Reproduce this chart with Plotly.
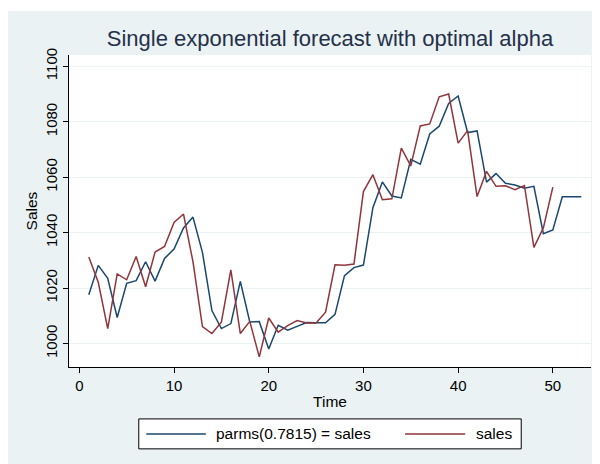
import plotly.graph_objects as go

# ---- data ----
sales_time = list(range(1, 51))
sales = [1031.2, 1022.1, 1005.4, 1025.1, 1023.0, 1031.4, 1020.5, 1033.0, 1035.0, 1043.7,
         1046.7, 1029.5, 1006.1, 1003.6, 1007.7, 1026.6, 1003.6, 1008.0, 995.2, 1009.2,
         1004.1, 1006.5, 1008.3, 1007.4, 1007.4, 1011.3, 1028.4, 1028.2, 1028.7, 1054.8,
         1060.9, 1051.9, 1052.2, 1070.5, 1064.1, 1078.5, 1079.2, 1089.0, 1090.0, 1072.3,
         1076.8, 1053.0, 1062.1, 1056.7, 1056.9, 1055.5, 1057.0, 1034.7, 1041.7, 1056.4]

fc_time = list(range(1, 54))
forecast = [1017.6, 1028.2, 1023.5, 1009.4, 1021.7, 1022.7, 1029.5, 1022.5, 1030.7, 1034.1,
            1041.7, 1045.6, 1032.9, 1011.9, 1005.4, 1007.2, 1022.4, 1007.8, 1007.9, 998.0,
            1006.6, 1004.8, 1006.2, 1007.6, 1007.5, 1007.5, 1010.5, 1024.5, 1027.4, 1028.3,
            1049.0, 1058.3, 1053.2, 1052.5, 1066.4, 1064.7, 1075.6, 1078.4, 1086.6, 1089.3,
            1076.1, 1076.7, 1058.2, 1061.3, 1057.8, 1057.2, 1056.0, 1056.7, 1039.6, 1041.0,
            1052.9, 1052.9, 1052.9]

x_ticks = [0, 10, 20, 30, 40, 50]
y_ticks = [1000, 1020, 1040, 1060, 1080, 1100]

title_text = "Single exponential forecast with optimal alpha"
fc_name = "parms(0.7815) = sales"
sales_name = "sales"

NAVY = "#1A476F"
MAROON = "#90353B"
BG = "#EAF2F3"
FONT = "Liberation Sans, Arial, sans-serif"

# The page places the figure 8px from the top-left corner (browser body margin),
# so the figure is sized and positioned in page pixels minus that offset.
OFF = 8
W, H = 600 - OFF, 464 - OFF
# plot area in page pixels
PL, PR, PT, PB = 69.3, 590.7, 55, 367.5
ML, MR, MT, MB = PL - OFF, W - (PR - OFF), PT - OFF, H - (PB - OFF)
PW, PH = PR - PL, PB - PT


def px(x):
    """page pixel x -> paper fraction"""
    return (x - PL) / PW


def py(y):
    """page pixel y -> paper fraction"""
    return (PB - y) / PH


fig = go.Figure()
fig.add_trace(go.Scatter(x=fc_time, y=forecast, mode="lines", name=fc_name,
                         line=dict(color=NAVY, width=1.5), showlegend=False))
fig.add_trace(go.Scatter(x=sales_time, y=sales, mode="lines", name=sales_name,
                         line=dict(color=MAROON, width=1.5), showlegend=False))

shapes = [
    dict(type="rect", xref="paper", yref="paper", x0=px(6), x1=px(610), y0=py(11), y1=py(480),
         fillcolor=BG, line=dict(width=0), layer="below"),
    dict(type="rect", xref="paper", yref="paper", x0=0, x1=1, y0=0, y1=1,
         fillcolor="white", line=dict(width=0), layer="below"),
    # legend box
    dict(type="rect", xref="paper", yref="paper", x0=px(139), x1=px(521), y0=py(419.5), y1=py(449.5),
         fillcolor="white", line=dict(color="black", width=1)),
    dict(type="line", xref="paper", yref="paper", x0=px(146.5), x1=px(206), y0=py(434.5), y1=py(434.5),
         line=dict(color=NAVY, width=1.5)),
    dict(type="line", xref="paper", yref="paper", x0=px(405), x1=px(465), y0=py(434.5), y1=py(434.5),
         line=dict(color=MAROON, width=1.5)),
]

annotations = [
    dict(text=fc_name, xref="paper", yref="paper", x=px(214), y=py(434.5), xanchor="left",
         yanchor="middle", showarrow=False, font=dict(family=FONT, size=15.5, color="black")),
    dict(text=sales_name, xref="paper", yref="paper", x=px(474), y=py(434.5), xanchor="left",
         yanchor="middle", showarrow=False, font=dict(family=FONT, size=15.5, color="black")),
]

fig.update_layout(
    width=W, height=H, autosize=False,
    margin=dict(l=ML, r=MR, t=MT, b=MB, pad=0, autoexpand=False),
    paper_bgcolor="white", plot_bgcolor="white",
    font=dict(family=FONT, size=15, color="black"),
    title=dict(text=title_text, xref="container", yref="container",
               x=(330 - OFF) / W, xanchor="center", y=1 - (38 - OFF) / H, yanchor="middle",
               font=dict(family=FONT, size=22, color="#25304A")),
    shapes=shapes, annotations=annotations,
    xaxis=dict(range=[-1.09, 54.03], tickvals=x_ticks, ticks="outside", ticklen=5,
               tickcolor="black", showline=True, linecolor="black", linewidth=1,
               showgrid=False, zeroline=False, tickfont=dict(size=15), automargin=False,
               title=dict(text="Time", standoff=3, font=dict(size=15.5))),
    yaxis=dict(range=[991.54, 1104.07], tickvals=y_ticks, ticks="outside", ticklen=5,
               tickcolor="black", showline=True, linecolor="black", linewidth=1,
               showgrid=True, gridcolor=BG, gridwidth=1, zeroline=False, automargin=False,
               tickangle=-90, tickfont=dict(size=15),
               title=dict(text="Sales", standoff=1, font=dict(size=15.5))),
)

fig.write_html("out.html")
